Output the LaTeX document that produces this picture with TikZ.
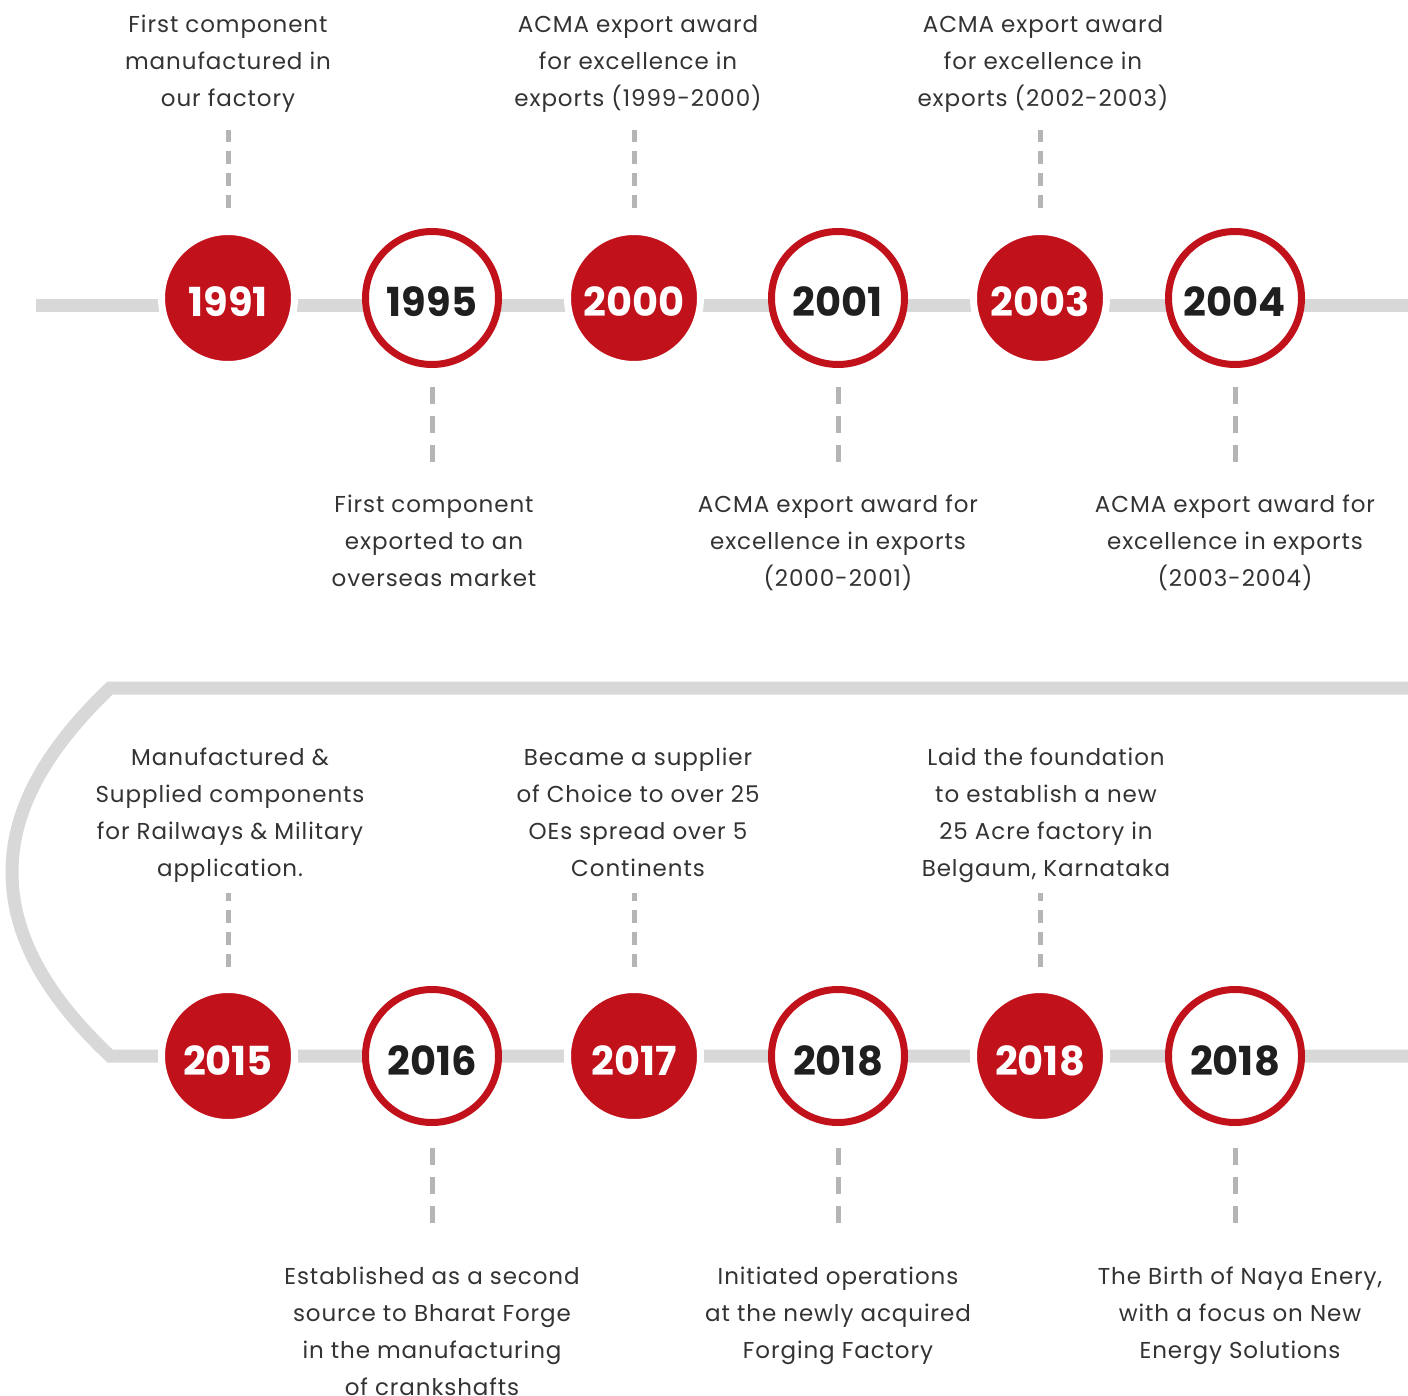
\documentclass[tikz,border=0pt]{standalone}
\usepackage{fontspec}
\setmainfont{Poppins}
\newfontfamily\descfont[LetterSpace=4]{Poppins}
\usetikzlibrary{positioning}
\definecolor{brandred}{HTML}{C1121C}
\definecolor{trackgray}{HTML}{D8D8D8}
\definecolor{tickgray}{HTML}{B5B5B5}
\definecolor{inkgray}{HTML}{333333}
\tikzset{
  x=1pt, y=-1pt,
  track/.style={draw=trackgray, line width=13pt},
  yearbase/.style={circle, minimum size=133pt, inner sep=0pt, outer sep=0pt,
    line width=7pt, text height=38pt, text depth=0pt,
    font=\fontsize{40}{40}\selectfont\bfseries},
  solidyear/.style={yearbase, fill=brandred, draw=white, text=white},
  ringyear/.style={yearbase, fill=white, draw=brandred, text=black!88},
  desc/.style={align=center, inner sep=0pt, outer sep=0pt, text=inkgray,
    anchor=north, font=\descfont\fontsize{23}{37}\selectfont},
  tickup/.style={draw=tickgray, line width=5pt, dash pattern=on 13pt off 9pt},
  tickdown/.style={draw=tickgray, line width=5pt, dash pattern=on 17pt off 12pt},
}
\begin{document}
\begin{tikzpicture}
  \useasboundingbox (0,0) rectangle (1408,1396);

  % tracks
  \draw[track] (36,306) -- (1408,306);
  \draw[track] (1408,688) -- (110,688)
    .. controls (40,755) and (12,815) .. (12,872)
    .. controls (12,930) and (40,990) .. (110,1056) -- (1408,1056);

  % first row
  \node[solidyear] (y1991) at (228,298)  {1991};
  \node[ringyear]  (y1995) at (432,298)  {1995};
  \node[solidyear] (y2000) at (634,298)  {2000};
  \node[ringyear]  (y2001) at (838,298)  {2001};
  \node[solidyear] (y2003) at (1040,298) {2003};
  \node[ringyear]  (y2004) at (1235,298) {2004};

  % second row
  \node[solidyear] (y2015)  at (228,1056)  {2015};
  \node[ringyear]  (y2016)  at (432,1056)  {2016};
  \node[solidyear] (y2017)  at (634,1056)  {2017};
  \node[ringyear]  (y2018a) at (838,1056)  {2018};
  \node[solidyear] (y2018b) at (1040,1056) {2018};
  \node[ringyear]  (y2018c) at (1235,1056) {2018};

  % texts, first row
  \node[desc] (t1991) at (228,15)  {First component\\manufactured in\\our factory};
  \node[desc] (t2000) at (638,15)  {ACMA export award\\for excellence in\\exports (1999-2000)};
  \node[desc] (t2003) at (1043,15) {ACMA export award\\for excellence in\\exports (2002-2003)};
  \node[desc] (t1995) at (434,495)  {First component\\exported to an\\overseas market};
  \node[desc] (t2001) at (838,495)  {ACMA export award for\\excellence in exports\\(2000-2001)};
  \node[desc] (t2004) at (1235,495) {ACMA export award for\\excellence in exports\\(2003-2004)};

  % texts, second row
  \node[desc] (t2015)  at (230,748)  {Manufactured \&\\Supplied components\\for Railways \& Military\\application.};
  \node[desc] (t2017)  at (638,748)  {Became a supplier\\of Choice to over 25\\OEs spread over 5\\Continents};
  \node[desc] (t2018b) at (1046,748) {Laid the foundation\\to establish a new\\25 Acre factory in\\Belgaum, Karnataka};
  \node[desc] (t2016)  at (432,1267)  {Established as a second\\source to Bharat Forge\\in the manufacturing\\of crankshafts};
  \node[desc] (t2018a) at (838,1267)  {Initiated operations\\at the newly acquired\\Forging Factory};
  \node[desc] (t2018c) at (1240,1267) {The Birth of Naya Enery,\\with a focus on New\\Energy Solutions};

  % dashed ticks
  \foreach \yr in {1991,2000,2003}
    \draw[tickup, shorten <=90pt, shorten >=115pt] (y\yr.center) -- (t\yr.north -| y\yr.center);
  \foreach \yr in {1995,2001,2004}
    \draw[tickdown, shorten <=89pt, shorten >=33pt] (y\yr.center) -- (t\yr.north -| y\yr.center);
  \foreach \yr in {2015,2017,2018b}
    \draw[tickup, shorten <=89pt, shorten >=145pt] (y\yr.center) -- (t\yr.north -| y\yr.center);
  \foreach \yr in {2016,2018a,2018c}
    \draw[tickdown, shorten <=92pt, shorten >=35pt] (y\yr.center) -- (t\yr.north -| y\yr.center);
\end{tikzpicture}
\end{document}
